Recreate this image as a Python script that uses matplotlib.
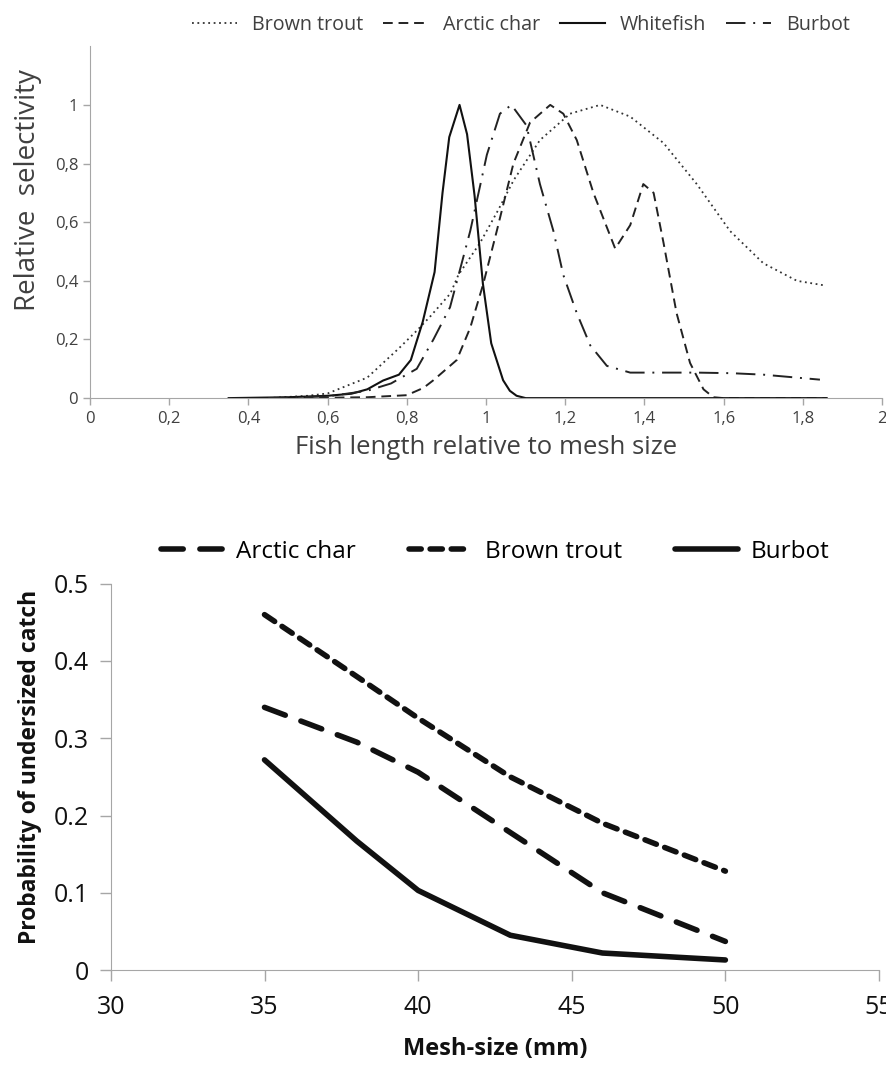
import numpy as np
import matplotlib
matplotlib.use("Agg")
import matplotlib.pyplot as plt

plt.rcParams['font.family'] = ['Open Sans', 'DejaVu Sans']

# ---- top panel: relative selectivity curves ----
whitefish_x = [0.35, 0.5, 0.6, 0.66, 0.70, 0.74, 0.78, 0.81, 0.84, 0.87, 0.89, 0.907, 0.933, 0.952,
               0.971, 0.992, 1.013, 1.043, 1.06, 1.077, 1.1, 1.3, 1.6, 1.86]
whitefish_y = [0.0, 0.003, 0.008, 0.015, 0.03, 0.06, 0.08, 0.13, 0.26, 0.43, 0.7, 0.89, 1.0, 0.9,
               0.69, 0.39, 0.187, 0.061, 0.025, 0.008, 0.0, 0.0, 0.0, 0.0]

trout_x = [0.45, 0.55, 0.6, 0.7, 0.78, 0.825, 0.86, 0.91, 0.93, 0.985, 1.03, 1.07, 1.136, 1.212,
           1.288, 1.364, 1.448, 1.532, 1.616, 1.70, 1.785, 1.852]
trout_y = [0.0, 0.008, 0.016, 0.07, 0.17, 0.23, 0.28, 0.357, 0.42, 0.53, 0.64, 0.744, 0.88, 0.97,
           1.0, 0.96, 0.87, 0.73, 0.57, 0.46, 0.40, 0.385]

char_x = [0.5, 0.7, 0.8, 0.842, 0.867, 0.926, 0.96, 0.993, 1.027, 1.069, 1.111, 1.162, 1.195, 1.229,
          1.271, 1.326, 1.364, 1.397, 1.423, 1.448, 1.481, 1.515, 1.549, 1.574, 1.6, 1.86]
char_y = [0.0, 0.003, 0.01, 0.035, 0.061, 0.13, 0.24, 0.39, 0.57, 0.80, 0.94, 1.0, 0.97, 0.88,
          0.70, 0.51, 0.59, 0.73, 0.70, 0.53, 0.29, 0.12, 0.03, 0.003, 0.0, 0.0]

burbot_x = [0.45, 0.6, 0.7, 0.76, 0.825, 0.867, 0.909, 0.96, 1.002, 1.035, 1.064, 1.102, 1.136, 1.17,
            1.195, 1.229, 1.263, 1.305, 1.364, 1.45, 1.532, 1.62, 1.70, 1.843]
burbot_y = [0.0, 0.006, 0.025, 0.05, 0.1, 0.2, 0.31, 0.57, 0.83, 0.97, 1.0, 0.93, 0.73, 0.57,
            0.42, 0.29, 0.18, 0.11, 0.087, 0.087, 0.087, 0.085, 0.08, 0.063]

# ---- bottom panel: probability of undersized catch ----
mesh = [35, 38, 40, 43, 46, 50]
p_char = [0.34, 0.295, 0.256, 0.178, 0.1, 0.037]
p_trout = [0.46, 0.38, 0.326, 0.25, 0.19, 0.128]
p_burbot = [0.272, 0.167, 0.103, 0.045, 0.022, 0.013]

fig = plt.figure(figsize=(8.87, 10.76), dpi=100)

gray = '#a6a6a6'
txt = '#404040'

ax1 = fig.add_axes([0.1015, 0.630, 0.893, 0.327])
ax1.plot(trout_x, trout_y, color='#333333', lw=1.3, linestyle=(0, (1, 2)), label='Brown trout')
ax1.plot(char_x, char_y, color='#222222', lw=1.4, linestyle=(0, (5, 3)), label='Arctic char')
ax1.plot(whitefish_x, whitefish_y, color='#111111', lw=1.5, linestyle='-', label='Whitefish')
ax1.plot(burbot_x, burbot_y, color='#222222', lw=1.4, linestyle=(0, (10, 4, 1, 4)), label='Burbot')
ax1.set_xlim(0, 2)
ax1.set_ylim(0, 1.2)
ax1.set_xticks(np.arange(0, 2.01, 0.2))
ax1.set_xticklabels(['0', '0,2', '0,4', '0,6', '0,8', '1', '1,2', '1,4', '1,6', '1,8', '2'])
ax1.set_yticks([0, 0.2, 0.4, 0.6, 0.8, 1.0])
ax1.set_yticklabels(['0', '0,2', '0,4', '0,6', '0,8', '1'])
for s in ['top', 'right']:
    ax1.spines[s].set_visible(False)
for s in ['left', 'bottom']:
    ax1.spines[s].set_color(gray)
ax1.tick_params(axis='both', colors=gray, labelcolor=txt, labelsize=12, length=5, width=1)
ax1.tick_params(axis='x', pad=4)
ax1.set_ylabel('Relative  selectivity', fontsize=20, color=txt)
ax1.yaxis.set_label_coords(-0.061, 0.59)
ax1.set_xlabel('Fish length relative to mesh size', fontsize=18.5, color=txt, labelpad=6)
ax1.legend(loc='upper center', bbox_to_anchor=(0.544, 1.14), ncol=4, frameon=False, fontsize=14.2,
           handlelength=2.3, columnspacing=1.0, handletextpad=0.75, labelcolor=txt)

ax2 = fig.add_axes([0.125, 0.0985, 0.866, 0.359])
ax2.plot(mesh, p_char, color='#111111', lw=4, linestyle=(0, (4, 3)), solid_capstyle='round',
         dash_capstyle='round', label='Arctic char')
ax2.plot(mesh, p_trout, color='#111111', lw=4, linestyle=(0, (2.2, 1.6)), dash_capstyle='round',
         label='Brown trout')
ax2.plot(mesh, p_burbot, color='#111111', lw=4, linestyle='-', solid_capstyle='round', label='Burbot')
ax2.set_xlim(30, 55)
ax2.set_ylim(0, 0.5)
ax2.set_xticks([30, 35, 40, 45, 50, 55])
ax2.set_yticks([0, 0.1, 0.2, 0.3, 0.4, 0.5])
ax2.set_yticklabels(['0', '0.1', '0.2', '0.3', '0.4', '0.5'])
for s in ['top', 'right']:
    ax2.spines[s].set_visible(False)
for s in ['left', 'bottom']:
    ax2.spines[s].set_color(gray)
ax2.tick_params(axis='both', colors=gray, labelcolor='#111111', labelsize=18, length=8, width=1)
ax2.tick_params(axis='x', pad=10)
ax2.tick_params(axis='y', pad=8)
ax2.set_ylabel('Probability of undersized catch', fontsize=16.5, fontweight='bold', color='#111111')
ax2.yaxis.set_label_coords(-0.09, 0.526)
ax2.set_xlabel('Mesh-size (mm)', fontsize=17, fontweight='bold', color='#111111', labelpad=12)
ax2.legend(loc='upper center', bbox_to_anchor=(0.5, 1.17), ncol=3, frameon=False, fontsize=17.5,
           handlelength=2.6, columnspacing=2.2, handletextpad=0.5)

fig.savefig('out.png', dpi=100)
